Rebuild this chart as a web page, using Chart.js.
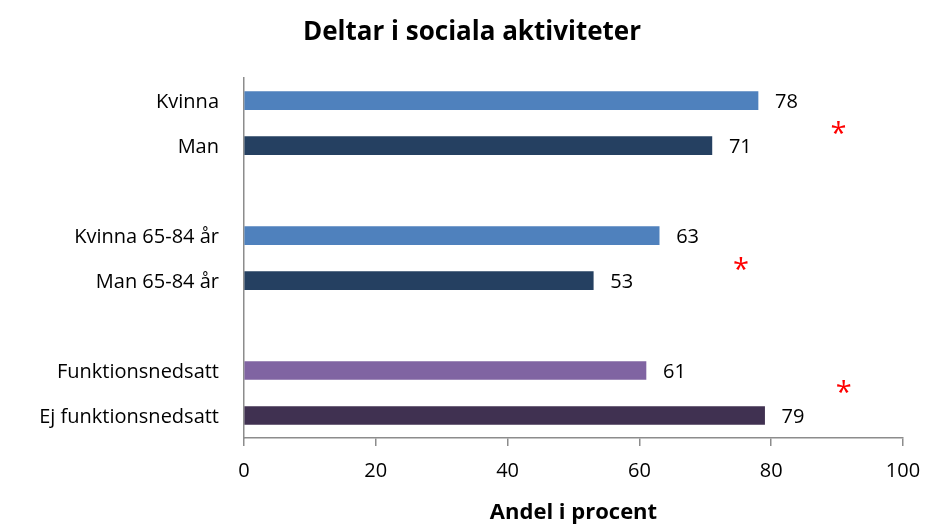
<!DOCTYPE html>
<html>
<head>
<meta charset="utf-8">
<script src="https://cdn.jsdelivr.net/npm/chart.js@4"></script>
<style>
  html, body { margin: 0; padding: 0; background: #fff; }
  #wrap { width: 926px; height: 524px; }
</style>
</head>
<body>
<div id="wrap"><canvas id="myChart" width="926" height="524"></canvas></div>
<script>
// categories (empty strings are the gaps between groups)
const labels = ['Kvinna', 'Man', '', 'Kvinna 65-84 år', 'Man 65-84 år', '', 'Funktionsnedsatt', 'Ej funktionsnedsatt'];
const values = [78, 71, null, 63, 53, null, 61, 79];
const barColors = ['#4F81BD', '#254061', '#fff', '#4F81BD', '#254061', '#fff', '#8064A2', '#403151'];
const xTicks = [0, 20, 40, 60, 80, 100];
// significance marks: x value and (fractional) category index
const starX = [90.2, 75.4, 91];
const starY = [0.66, 3.7, 6.43];

const FONT = '"Open Sans", sans-serif';

const barLabels = {
  id: 'barLabels',
  afterDatasetsDraw(chart) {
    const ctx = chart.ctx;
    const meta = chart.getDatasetMeta(0);
    ctx.save();
    ctx.font = '20px ' + FONT;
    ctx.fillStyle = '#000';
    ctx.textAlign = 'left';
    ctx.textBaseline = 'middle';
    meta.data.forEach((bar, i) => {
      if (values[i] == null) return;
      ctx.fillText(String(values[i]), bar.x + 17, bar.y + 2);
    });
    // red asterisks
    const xs = chart.scales.x, ys = chart.scales.y;
    ctx.fillStyle = '#ff0000';
    ctx.font = '29px ' + FONT;
    ctx.textAlign = 'center';
    starX.forEach((v, i) => {
      ctx.fillText('*', xs.getPixelForValue(v), ys.getPixelForValue(starY[i]) + 4);
    });
    ctx.restore();
  }
};

new Chart(document.getElementById('myChart').getContext('2d'), {
  type: 'bar',
  data: {
    labels: labels,
    datasets: [{
      data: values,
      backgroundColor: barColors,
      barThickness: 18,
      borderWidth: 0
    }]
  },
  options: {
    indexAxis: 'y',
    responsive: false,
    animation: false,
    layout: { padding: { left: 41, right: 23, top: 0, bottom: 0 } },
    plugins: {
      legend: { display: false },
      tooltip: { enabled: false },
      title: {
        display: true,
        text: 'Deltar i sociala aktiviteter',
        color: '#000',
        font: { family: FONT, size: 26, weight: 'bold' },
        padding: { top: 17, bottom: 30 }
      }
    },
    scales: {
      x: {
        min: 0,
        max: 100,
        afterBuildTicks(scale) { scale.ticks = xTicks.map(v => ({ value: v })); },
        afterFit(scale) { scale.height = 86; scale.paddingLeft = 0; scale.paddingRight = 0; },
        grid: { drawOnChartArea: false, drawTicks: true, tickLength: 8, color: '#8c8c8c', lineWidth: 1.5 },
        border: { display: true, color: '#8c8c8c', width: 1.5 },
        ticks: { color: '#000', font: { family: FONT, size: 20 }, padding: 13 },
        title: {
          display: true,
          text: 'Andel i procent',
          color: '#000',
          font: { family: FONT, size: 22, weight: 'bold', lineHeight: 1.0 },
          padding: { top: 6, bottom: 0 }
        }
      },
      y: {
        afterFit(scale) { scale.width = 203; },
        grid: { display: false, drawTicks: false },
        border: { display: true, color: '#8c8c8c', width: 1.5 },
        ticks: { color: '#000', font: { family: FONT, size: 20 }, padding: 25, autoSkip: false, labelOffset: 2 }
      }
    }
  },
  plugins: [barLabels]
});
</script>
</body>
</html>
